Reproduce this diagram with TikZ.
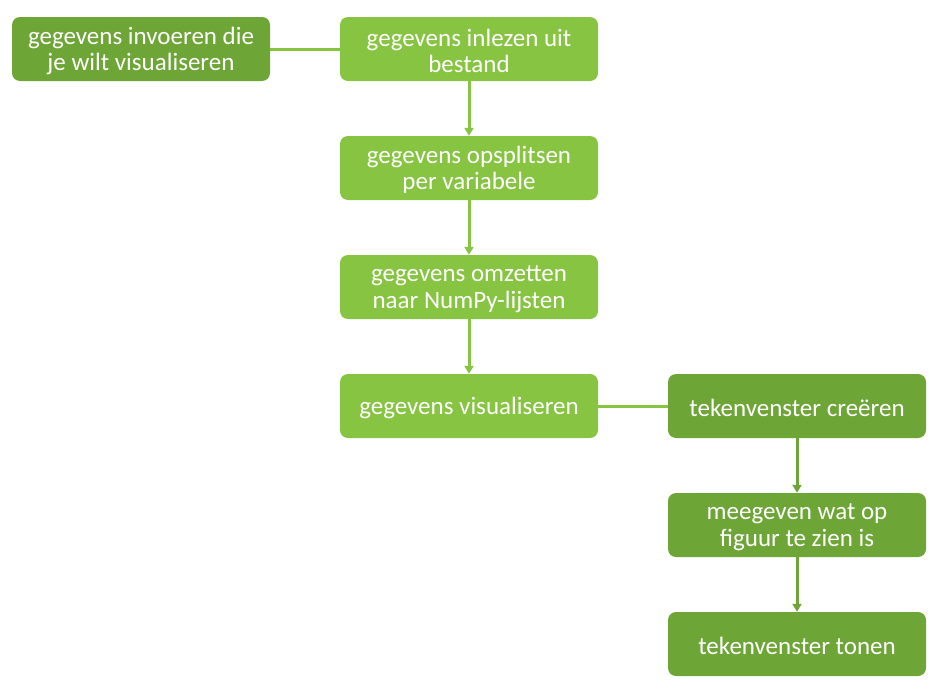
\documentclass[tikz,border=0pt]{standalone}
\usepackage{fontspec}
\setmainfont{Carlito}
\usetikzlibrary{arrows.meta}
\definecolor{lgreen}{HTML}{86C441}
\definecolor{dgreen}{HTML}{6DA536}
\tikzset{
  box/.style={rounded corners=8pt, minimum width=258pt, minimum height=64pt, inner sep=0pt},
  txt/.style={label={[text=white, align=center, font=\fontsize{25}{26.5}\selectfont, yshift=-2pt]center:#1}},
  lbox/.style={box, fill=lgreen, txt={#1}},
  dbox/.style={box, fill=dgreen, txt={#1}},
  lline/.style={draw=lgreen, line width=3pt},
  dline/.style={draw=dgreen, line width=3pt},
  tip/.style={-{Triangle[length=8pt,width=9pt]}}
}
\begin{document}
\begin{tikzpicture}[x=1pt,y=-1pt]
\useasboundingbox (0,0) rectangle (947,688);
\node[dbox={gegevens invoeren die\\je wilt visualiseren}] (a) at (141,49) {};
\node[lbox={gegevens inlezen uit\\bestand}] (b) at (469,49) {};
\node[lbox={gegevens opsplitsen\\per variabele}] (c) at (469,168) {};
\node[lbox={gegevens omzetten\\naar NumPy-lijsten}] (d) at (469,287) {};
\node[lbox={gegevens visualiseren}] (e) at (469,406) {};
\node[dbox={tekenvenster creëren}] (f) at (797,406) {};
\node[dbox={meegeven wat op\\figuur te zien is}] (g) at (797,525) {};
\node[dbox={tekenvenster tonen}] (h) at (797,644) {};
\draw[lline] (a) -- (b);
\draw[lline] (e) -- (f);
\draw[lline,tip] (b) -- (c);
\draw[lline,tip] (c) -- (d);
\draw[lline,tip] (d) -- (e);
\draw[dline,tip] (f) -- (g);
\draw[dline,tip] (g) -- (h);
\end{tikzpicture}
\end{document}
